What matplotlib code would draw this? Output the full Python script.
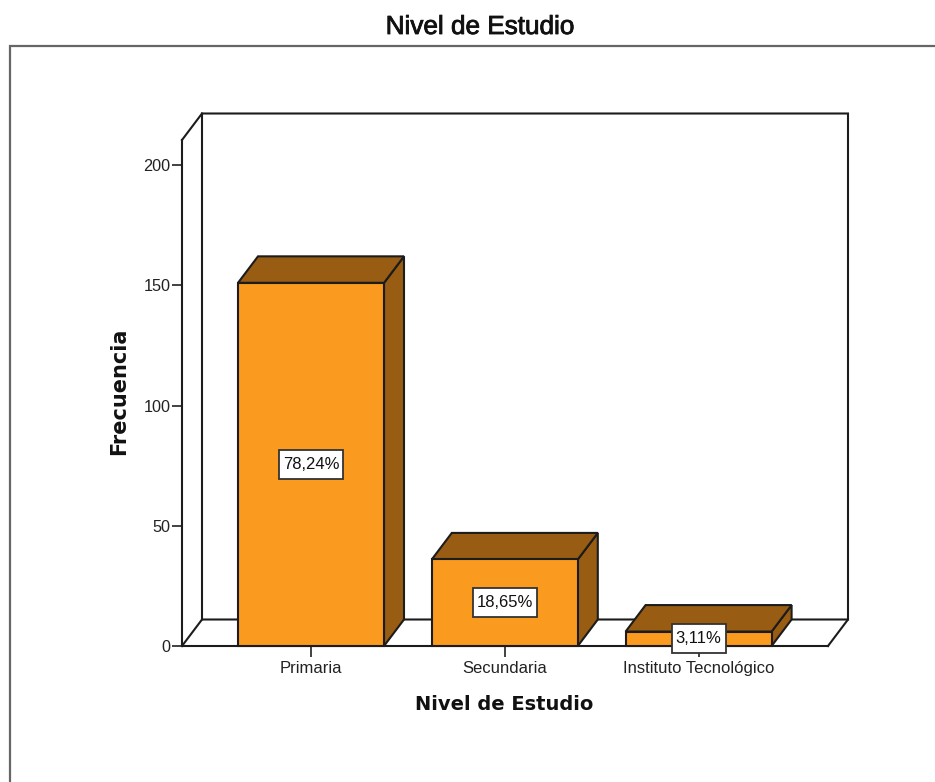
import matplotlib
matplotlib.use("Agg")
import matplotlib.pyplot as plt
import matplotlib.patheffects as pe
from matplotlib.lines import Line2D
from matplotlib.patches import Polygon, Rectangle

categories = ["Primaria", "Secundaria", "Instituto Tecnológico"]
frecuencia = [151, 36, 6]
porcentajes = ["78,24%", "18,65%", "3,11%"]
yticks = [0, 50, 100, 150, 200]

W, H = 935, 782
LEFT, RIGHT, BASE, TOP = 182, 828, 646, 140
PX_X = 193.8          # px per category
PX_Y = 2.405          # px per frequency unit
DX_PX, DY_PX = 20, 26.5
ORANGE, BROWN, INK = "#FA9A1E", "#985C12", "#1c1c1c"
LW = 1.5

plt.rcParams["font.family"] = ["Liberation Sans", "DejaVu Sans"]
fig = plt.figure(figsize=(W / 100, H / 100), dpi=100, facecolor="white")
ax = fig.add_axes([LEFT / W, 1 - BASE / H, (RIGHT - LEFT) / W, (BASE - TOP) / H])
ax.patch.set_visible(False)

x0 = 311.0
ax.set_xlim((LEFT - x0) / PX_X, (RIGHT - x0) / PX_X)
ax.set_ylim(0, (BASE - TOP) / PX_Y)
xl, xr = ax.get_xlim()
yt = ax.get_ylim()[1]
dx, dy = DX_PX / PX_X, DY_PX / PX_Y
bw = 146 / PX_X

# back wall + floor + side wall
ax.plot([xl + dx, xl + dx, xr + dx, xr + dx, xr],
        [dy, yt + dy, yt + dy, dy, 0], color=INK, lw=LW, clip_on=False, zorder=1,
        solid_joinstyle="miter")
ax.plot([xl, xl + dx, xr + dx], [0, dy, dy], color=INK, lw=LW, clip_on=False, zorder=1)
ax.plot([xl, xl + dx], [yt, yt + dy], color=INK, lw=LW, clip_on=False, zorder=1)

# 3-D bars
renderer = fig.canvas.get_renderer()
for i, v in enumerate(frecuencia):
    a, b = i - bw / 2, i + bw / 2
    poly = dict(edgecolor=INK, lw=LW, clip_on=False, zorder=3, joinstyle="miter")
    ax.add_patch(Polygon([(b, 0), (b + dx, dy), (b + dx, v + dy), (b, v)], facecolor=BROWN, **poly))
    ax.add_patch(Polygon([(a, v), (a + dx, v + dy), (b + dx, v + dy), (b, v)], facecolor=BROWN, **poly))
    ax.add_patch(Polygon([(a, 0), (b, 0), (b, v), (a, v)], facecolor=ORANGE, **poly))
    t = ax.text(i, v / 2, porcentajes[i], ha="center", va="center", fontsize=12, color="#111111",
                zorder=7, clip_on=False)
    box_w = (t.get_window_extent(renderer).width + 8) / PX_X
    box_h = 29 / PX_Y
    ax.add_patch(Rectangle((i - box_w / 2, v / 2 - box_h / 2), box_w, box_h, facecolor="white",
                           edgecolor="#333333", lw=1.3, clip_on=False, zorder=6))

for s in ("top", "right"):
    ax.spines[s].set_visible(False)
for s in ("left", "bottom"):
    ax.spines[s].set_linewidth(LW)
    ax.spines[s].set_color(INK)
    ax.spines[s].set_zorder(2)

ax.set_yticks(yticks)
ax.set_xticks(range(len(categories)), categories)
ax.tick_params(axis="y", length=7.2, width=1.3, color="#333333", labelsize=11.7, pad=1, labelcolor="#222222")
ax.tick_params(axis="x", length=7.6, width=1.3, color="#333333", labelsize=12, pad=3.5, labelcolor="#222222")

fig.text(480 / W, 1 - 27 / H, "Nivel de Estudio", ha="center", va="center", fontsize=18.8, color="#111111",
         path_effects=[pe.withStroke(linewidth=0.6, foreground="#111111")])
fig.text(504 / W, 1 - 705 / H, "Nivel de Estudio", ha="center", va="center", fontsize=14,
         fontweight="bold", family="DejaVu Sans", color="#111111")
fig.text(119 / W, 1 - 391 / H, "Frecuencia", ha="center", va="center", rotation=90, fontsize=15,
         fontweight="bold", family="DejaVu Sans", color="#111111")

# outer chart frame
fig.add_artist(Line2D([9.5 / W, 9.5 / W, 1], [0, 1 - 45.5 / H, 1 - 45.5 / H],
                      transform=fig.transFigure, color="#666666", lw=1.6, solid_joinstyle="miter"))

fig.savefig("out.png", dpi=100)
